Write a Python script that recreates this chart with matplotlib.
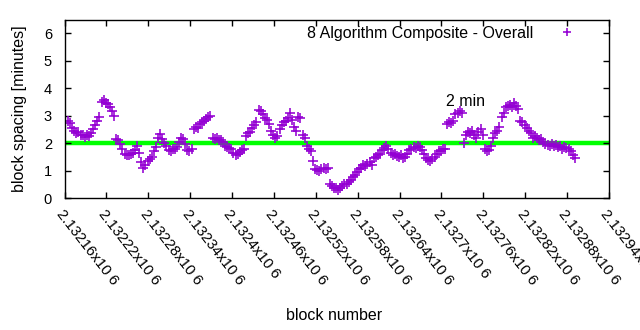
import numpy as np
import matplotlib
matplotlib.use("Agg")
import matplotlib.pyplot as plt

plt.rcParams['font.family'] = ['Liberation Sans', 'DejaVu Sans']

# block spacing values (minutes), one point every 3 blocks starting at block 2132165
first_block = 2132165
block_step = 3
spacing = [
    2.82, 2.74, 2.55, 2.45, 2.38, 2.42, 2.30, 2.28, 2.22, 2.30,
    2.27, 2.38, 2.50, 2.65, 2.80, 2.95, 3.50, 3.58, 3.45, 3.42,
    3.30, 3.15, 3.00, 2.15, 2.12, 1.95, 1.80, 1.62, 1.58, 1.55,
    1.60, 1.65, 1.75, 1.88, 1.65, 1.30, 1.08, 1.20, 1.35, 1.42,
    1.50, 1.70, 1.85, 2.20, 2.32, 2.15, 2.00, 1.90, 1.75, 1.72,
    1.80, 1.78, 1.85, 2.05, 2.20, 2.15, 1.95, 1.75, 1.70, 1.78,
    2.50, 2.60, 2.55, 2.68, 2.75, 2.80, 2.88, 2.95, 2.98, 2.20,
    2.15, 2.18, 2.10, 2.12, 2.05, 1.90, 1.85, 1.82, 1.80, 1.65,
    1.58, 1.62, 1.68, 1.75, 1.80, 2.25, 2.35, 2.40, 2.55, 2.65,
    2.75, 3.20, 3.18, 3.05, 2.90, 2.85, 2.70, 2.45, 2.30, 2.20,
    2.25, 2.50, 2.65, 2.75, 2.80, 2.90, 3.10, 2.85, 2.60, 2.45,
    2.95, 2.90, 2.30, 2.20, 1.90, 1.80, 1.70, 1.35, 1.05, 1.02,
    1.00, 1.05, 1.08, 1.05, 1.10, 0.50, 0.42, 0.38, 0.35, 0.30,
    0.38, 0.45, 0.50, 0.52, 0.60, 0.65, 0.75, 0.82, 0.95, 1.05,
    1.10, 1.20, 1.15, 1.25, 1.30, 1.20, 1.45, 1.50, 1.55, 1.60,
    1.75, 1.82, 1.88, 1.80, 1.65, 1.55, 1.60, 1.52, 1.48, 1.55,
    1.45, 1.50, 1.60, 1.75, 1.78, 1.85, 1.82, 1.90, 1.85, 1.75,
    1.60, 1.45, 1.38, 1.35, 1.42, 1.50, 1.60, 1.70, 1.72, 1.80,
    1.78, 2.70, 2.75, 2.72, 2.80, 3.05, 3.10, 3.15, 3.08, 2.00,
    2.30, 2.40, 2.35, 2.45, 2.30, 2.20, 2.40, 2.50, 2.30, 1.80,
    1.70, 1.75, 1.90, 2.20, 2.35, 2.45, 2.60, 2.95, 3.10, 3.30,
    3.35, 3.40, 3.30, 3.45, 3.35, 3.25, 2.80, 2.75, 2.65, 2.55,
    2.45, 2.35, 2.20, 2.25, 2.18, 2.12, 2.15, 2.05, 1.95, 1.92,
    1.88, 1.95, 1.90, 1.92, 1.85, 1.88, 1.80, 1.85, 1.82, 1.78,
    1.70, 1.55, 1.45,
]
blocks = first_block + block_step * np.arange(len(spacing))

target = 2.0
x_ticks = list(range(2132160, 2132941, 60))
y_ticks = [0, 1, 2, 3, 4, 5, 6]
series_label = "8 Algorithm Composite - Overall"
note_text = "2 min"
note_x, note_y = 2132706, 3.53

fig = plt.figure(figsize=(6.4, 3.3), dpi=100)
ax = fig.add_axes([0.1008, 0.4, 0.8508, 0.5409])

ax.axhline(target, color='#00ff00', lw=3.2, xmin=0.0, xmax=0.996, zorder=1)
ax.plot(blocks, spacing, linestyle='none', marker='+', color='#9400d3',
        markersize=6.8, markeredgewidth=1.15, label=series_label, zorder=2)

ax.set_xlim(2132160, 2132940)
ax.set_ylim(0, 6.5)
ax.set_xticks(x_ticks)
ax.set_xticklabels([f"{t/1e6:.6g}x10 6" for t in x_ticks], rotation=-52,
                   ha='left', va='top', rotation_mode='anchor', fontsize=10.8)
ax.set_yticks(y_ticks)
ax.set_yticklabels([str(v) for v in y_ticks], fontsize=10.5)
ax.tick_params(direction='in', length=4, width=1, top=True, right=True)
ax.tick_params(axis='x', pad=7)
ax.tick_params(axis='y', pad=9)
for s in ax.spines.values():
    s.set_linewidth(1)

ax.set_xlabel("block number", fontsize=11.5)
ax.xaxis.set_label_coords(0.495, -0.615)
ax.set_ylabel("block spacing [minutes]", fontsize=11.5)
ax.yaxis.set_label_coords(-0.069, 0.5)

ax.text(note_x, note_y, note_text, fontsize=11.5, va='center', ha='left')

leg = ax.legend(loc='upper right', markerfirst=False, frameon=False,
                bbox_to_anchor=(1 - 9.6 / 544.5, 1), borderaxespad=0,
                handlelength=3.25, handletextpad=0.5, fontsize=11.5,
                markerscale=0.85)

fig.savefig("out.png", dpi=100)
